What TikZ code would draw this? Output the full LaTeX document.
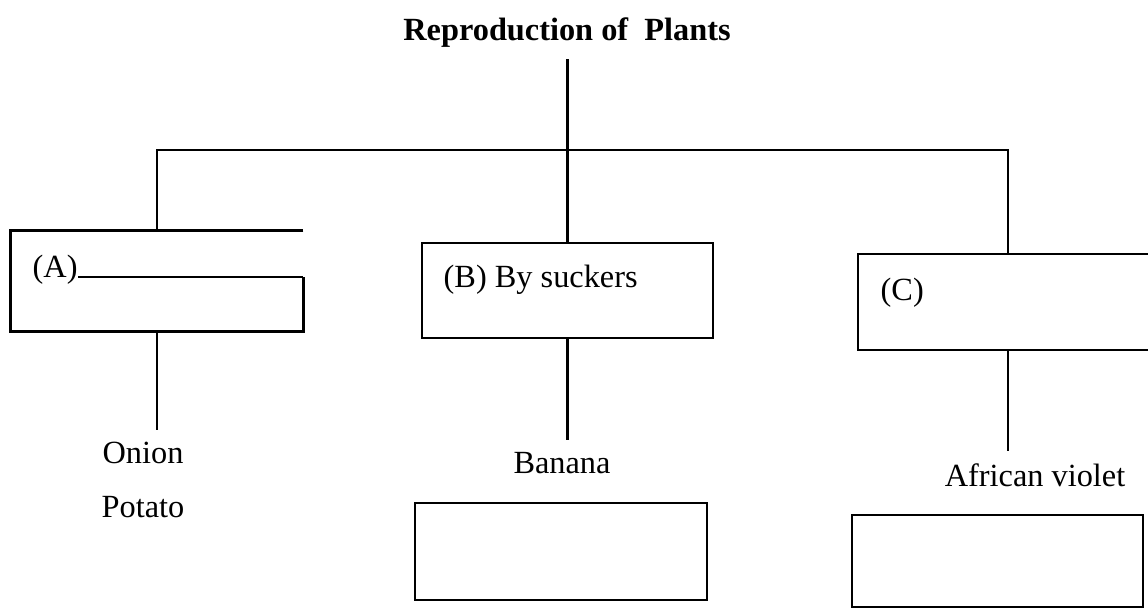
\documentclass[tikz,border=0pt]{standalone}
\usepackage{fontspec}
\setmainfont{Liberation Serif}
\usepackage{tikz}
\usetikzlibrary{positioning, calc}

\begin{document}
\begin{tikzpicture}[
      x=0.1mm, y=-0.1mm,
      font=\fontsize{9.2}{11}\selectfont,
      box/.style={draw, line width=0.8pt, minimum width=29.1mm, minimum height=9.6mm, inner sep=0pt},
      tag/.style={inner sep=0pt, anchor=base west},
      link/.style={line width=0.6pt},
    ]
    \useasboundingbox (0,0) rectangle (1148,614);
    \clip (0,0) rectangle (1148,614);
    \node[font=\fontsize{9.2}{11}\selectfont\bfseries, anchor=base] (title) at (567,40) {Reproduction of\ \ Plants};
    \coordinate (hub) at (567,150);
    \node[box, draw=none, minimum width=29mm, minimum height=9.8mm] (bA) at (157,281) {};
    \node[box, minimum height=9.5mm] (bB) at (567.5,290.5) {};
    \node[box, minimum width=30mm] (bC) at (1008,302) {};
    \node[box, minimum width=29.2mm, minimum height=9.7mm] (ansB) at (561,551.5) {};
    \node[box, minimum height=9.2mm] (ansC) at (997.5,561) {};
    \node[tag] (tA) at (32,277) {(A)};
    \node[tag] (tB) at (443,287) {(B) By suckers};
    \node[tag] (tC) at (880,300) {(C)};
    \node (onion) at (143,453) {Onion};
    \node (potato) at (143,507) {Potato};
    \node (banana) at (562,463) {Banana};
    \node (violet) at (1035,475) {African violet};
    \draw[line width=0.8pt] (bA.north east) -- (bA.north west) -- (bA.south west) -- (bA.south east) -- (bA.east |- tA.base);
    \draw[link] (tA.base east) -- (bA.east |- tA.base);
    \draw[link] (title.south -| bB.north) -- (bB.north);
    \draw[link] (bA.north) -- (bA.north |- hub) -- (bC.north |- hub) -- (bC.north);
    \draw[link] (bA.south) -- (bA.south |- onion.north);
    \draw[link] (bB.south) -- (bB.south |- banana.north);
    \draw[link] (bC.south) -- (bC.south |- violet.north);
  \end{tikzpicture}
\end{document}
